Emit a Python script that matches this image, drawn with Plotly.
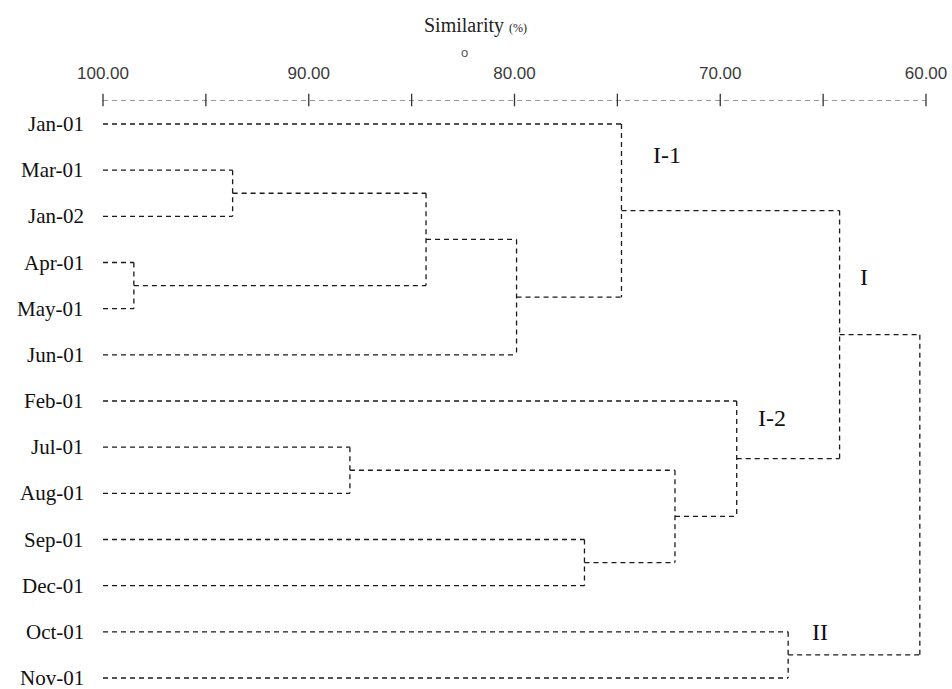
import plotly.graph_objects as go

# Leaf order (top to bottom) of the dendrogram
months = ["Jan-01", "Mar-01", "Jan-02", "Apr-01", "May-01", "Jun-01", "Feb-01",
          "Jul-01", "Aug-01", "Sep-01", "Dec-01", "Oct-01", "Nov-01"]

# Agglomeration steps: node n<k> is the result of step k (1-based)
merge_a = ["Apr-01", "Mar-01", "n2", "n3", "Jan-01", "Jul-01", "Sep-01", "n6",
           "Feb-01", "n5", "Oct-01", "n10"]
merge_b = ["May-01", "Jan-02", "n1", "Jun-01", "n4", "Aug-01", "Dec-01", "n7",
           "n8", "n9", "Nov-01", "n11"]
merge_sim = [98.5, 93.7, 84.3, 79.9, 74.8, 88.0, 76.6, 72.2, 69.2, 64.2, 66.7, 60.3]

# Similarity scale
scale_ticks = [100, 95, 90, 85, 80, 75, 70, 65, 60]
label_vals = [100, 90, 80, 70, 60]
label_text = ["100.00", "90.00", "80.00", "70.00", "60.00"]

# Cluster group labels
group_names = ["I-1", "I", "I-2", "II"]
group_x = [72.6, 63.0, 67.5, 65.15]
group_y = [0.67, 3.31, 6.37, 11.0]

# ---- build dendrogram segments ----
pos = {m: (100.0, i) for i, m in enumerate(months)}
xs, ys = [], []
for k, (a, b, s) in enumerate(zip(merge_a, merge_b, merge_sim), start=1):
    xa, ya = pos[a]
    xb, yb = pos[b]
    # horizontal arms
    xs += [xa, s, None, xb, s, None]
    ys += [ya, ya, None, yb, yb, None]
    # vertical joint
    xs += [s, s, None]
    ys += [ya, yb, None]
    pos["n%d" % k] = (s, (ya + yb) / 2.0)

Y_TOP = -0.52
Y_BOT = 12.13
LINE = "#1a1a1a"

fig = go.Figure()
fig.add_trace(go.Scatter(
    x=xs, y=ys, mode="lines",
    line=dict(color=LINE, width=1.3, dash="5px,4px"),
    hoverinfo="skip", showlegend=False, cliponaxis=False,
))

# dashed scale line along the top edge
fig.add_trace(go.Scatter(
    x=[scale_ticks[0], scale_ticks[-1]], y=[Y_TOP, Y_TOP], mode="lines",
    line=dict(color="#333333", width=1.1, dash="5px,4px"),
    hoverinfo="skip", showlegend=False, cliponaxis=False,
))
fig.add_trace(go.Scatter(
    x=scale_ticks, y=[Y_TOP] * len(scale_ticks), mode="markers",
    marker=dict(symbol="line-ns", size=9, line=dict(color="#333333", width=1.3)),
    hoverinfo="skip", showlegend=False, cliponaxis=False,
))

# leaf names, right-aligned just left of the scale origin
for i, m in enumerate(months):
    fig.add_annotation(x=-0.021, y=i, xref="paper", yref="y", text=m, showarrow=False,
                       xanchor="right", yanchor="middle",
                       font=dict(family="Liberation Serif", size=21, color="#111111"))

for name, gx, gy in zip(group_names, group_x, group_y):
    fig.add_annotation(x=gx, y=gy, xref="x", yref="y", text=name, showarrow=False,
                       xanchor="center", yanchor="middle",
                       font=dict(family="Liberation Serif", size=24, color="#111111"))

fig.add_annotation(x=0.453, y=1.128, xref="paper", yref="paper", showarrow=False,
                   xanchor="center", yanchor="middle",
                   text="Similarity <span style='font-size:12px'>(%)</span>",
                   font=dict(family="Liberation Serif", size=20, color="#222222"))
fig.add_annotation(x=0.4388, y=1.0805, xref="paper", yref="paper", showarrow=False,
                   xanchor="center", yanchor="middle",
                   text="o", font=dict(family="Liberation Sans", size=13, color="#555555"))

fig.update_layout(
    width=952, height=689,
    margin=dict(l=103, r=24, t=100, b=5),
    paper_bgcolor="white", plot_bgcolor="white",
    xaxis=dict(
        range=[100, 60], side="top", showgrid=False, zeroline=False, showline=False,
        tickvals=label_vals, ticktext=label_text, ticks="",
        ticklabelstandoff=17,
        tickfont=dict(family="Liberation Sans", size=17, color="#3a3a3a"),
    ),
    yaxis=dict(
        range=[Y_BOT, Y_TOP], showgrid=False, zeroline=False, showline=False,
        showticklabels=False, ticks="",
    ),
)

fig.write_html("out.html")
